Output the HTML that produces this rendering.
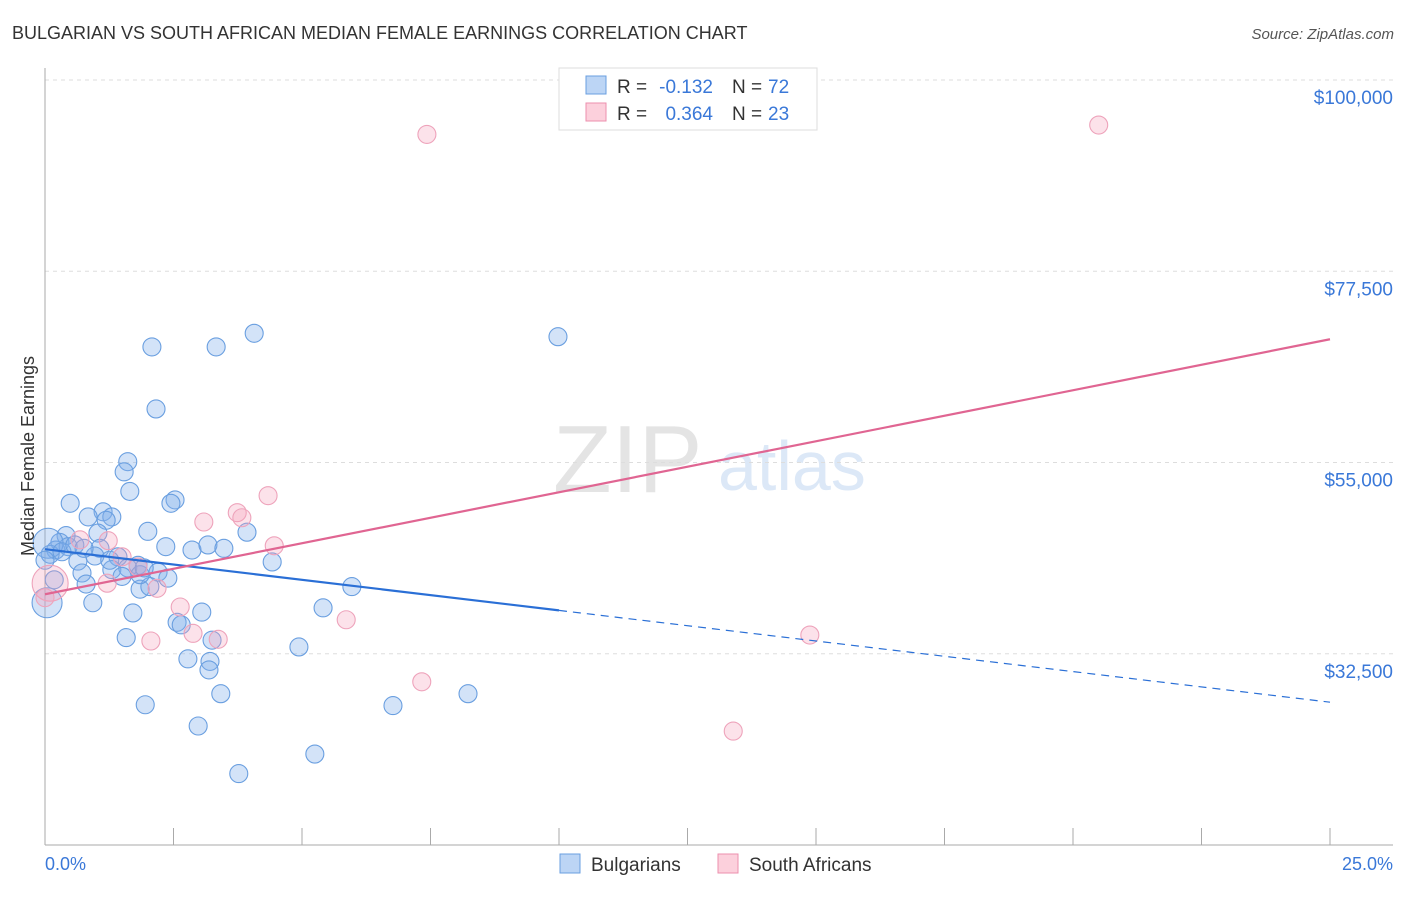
<!DOCTYPE html>
<html><head><meta charset="utf-8"><style>
body{margin:0;background:#fff;font-family:"Liberation Sans",sans-serif}
svg text{font-family:"Liberation Sans",sans-serif}
</style></head><body>
<svg id="c" width="1406" height="892">
<text x="12" y="39" font-size="18" fill="#333">BULGARIAN VS SOUTH AFRICAN MEDIAN FEMALE EARNINGS CORRELATION CHART</text>
<text x="1394" y="39" font-size="15" fill="#555" font-style="italic" text-anchor="end">Source: ZipAtlas.com</text>
<text x="553" y="492" font-size="96" fill="#e4e4e4" font-family="Liberation Serif">ZIP</text>
<text x="718" y="490" font-size="70" fill="#dce8f7">atlas</text>
<g id="grid"></g><g id="axes"></g><g id="marks"></g>
<text transform="translate(34,456) rotate(-90)" font-size="18" fill="#333" text-anchor="middle">Median Female Earnings</text>
<text x="45" y="870" font-size="18" fill="#3a78d8">0.0%</text>
<text x="1393" y="870" font-size="18" fill="#3a78d8" text-anchor="end">25.0%</text>
<g>
<rect x="559" y="68" width="258" height="62" fill="#fff" stroke="#ddd"/>
<rect x="586" y="76" width="20" height="18" fill="#bcd5f5" stroke="#6a9fe0"/>
<rect x="586" y="103" width="20" height="18" fill="#fcd0dc" stroke="#ec8fae"/>
<text x="617" y="93" font-size="19" fill="#333">R =</text>
<text x="713" y="93" font-size="19" fill="#3a78d8" text-anchor="end">-0.132</text>
<text x="732" y="93" font-size="19" fill="#333">N =</text>
<text x="768" y="93" font-size="19" fill="#3a78d8">72</text>
<text x="617" y="120" font-size="19" fill="#333">R =</text>
<text x="713" y="120" font-size="19" fill="#3a78d8" text-anchor="end">0.364</text>
<text x="732" y="120" font-size="19" fill="#333">N =</text>
<text x="768" y="120" font-size="19" fill="#3a78d8">23</text>
</g>
<g>
<rect x="560" y="854" width="20" height="19" fill="#bcd5f5" stroke="#6a9fe0"/>
<text x="591" y="871" font-size="19" fill="#333">Bulgarians</text>
<rect x="718" y="854" width="20" height="19" fill="#fcd0dc" stroke="#ec8fae"/>
<text x="749" y="871" font-size="19" fill="#333">South Africans</text>
</g>
</svg>
<script>
const yTicks=[100000,77500,55000,32500];
const yTickLabels=["$100,000","$77,500","$55,000","$32,500"];
const xTicks=[0,2.5,5,7.5,10,12.5,15,17.5,20,22.5,25];
const blueX=[2.08,3.33,4.07,2.16,9.98,1.61,1.54,1.65,0.49,2.53,2.45,1.13,0.84,1.30,1.19,2.00,3.93,0.41,1.03,0.29,0.21,0.45,1.07,2.35,2.86,3.17,3.48,0.10,0.97,1.42,0.64,4.42,1.81,1.30,1.61,2.20,0.72,1.50,0.80,2.39,1.85,2.04,5.97,0.93,1.71,3.05,5.41,2.57,2.65,1.58,3.25,4.94,2.78,3.21,3.19,3.42,8.23,1.95,6.77,2.98,5.25,3.77,0.04,0.06,0.0,0.18,1.26,1.85,0.33,0.58,1.93,0.76];
const blueY=[68.6,68.6,70.2,61.3,69.8,55.1,53.9,51.6,50.2,50.6,50.2,49.2,48.6,48.6,48.2,46.9,46.8,46.4,46.7,45.6,44.7,45.1,44.9,45.1,44.7,45.3,44.9,44.2,44.0,43.9,43.4,43.3,42.9,42.4,42.6,42.1,42.0,41.6,40.7,41.4,40.1,40.4,40.4,38.5,37.3,37.4,37.9,36.2,35.9,34.4,34.1,33.3,31.9,31.6,30.6,27.8,27.8,26.5,26.4,24.0,20.7,18.4,38.5,45.5,43.5,41.2,43.5,41.8,44.5,45.3,42.6,44.9];
const blueBig=[62,63];
const pinkX=[7.43,20.5,4.34,3.74,3.83,3.09,4.46,1.23,0.68,1.50,1.81,1.21,2.18,2.63,2.88,3.37,2.06,5.86,14.88,7.33,13.39,0.1,0.0];
const pinkY=[93.6,94.7,51.1,49.1,48.5,48.0,45.2,45.8,45.9,43.9,42.7,40.8,40.2,38.0,34.9,34.2,34.0,36.5,34.7,29.2,23.4,40.8,39.1];
const pinkBig=[21];
const blueTrend=[44.8,26.8], blueSolidEnd=10;
const pinkTrend=[39.5,69.5];
const X=p=>45+p*51.4, Y=k=>80+(100-k)*8.5;
const NS="http://www.w3.org/2000/svg";
function mk(t,a,parent){const e=document.createElementNS(NS,t);for(const k in a)e.setAttribute(k,a[k]);document.getElementById(parent).appendChild(e);return e;}
yTicks.forEach((v,i)=>{
 const g=mk('line',{x1:45,x2:1393,y1:Y(v/1000),y2:Y(v/1000),stroke:'#ddd','stroke-dasharray':'4,4'},'grid');
 
 
 const t=mk('text',{x:1393,y:Y(v/1000)+24,'font-size':19,fill:'#3a78d8','text-anchor':'end'},'grid');
 t.textContent=yTickLabels[i];
 
 
});
let a=mk('line',{x1:45,x2:45,y1:68,y2:845,stroke:'#aaa'},'axes');


a=mk('line',{x1:45,x2:1393,y1:845,y2:845,stroke:'#aaa'},'axes');


xTicks.forEach(p=>{const l=mk('line',{x1:X(p),x2:X(p),y1:828,y2:845,stroke:'#aaa'},'axes');
 
 });
blueX.forEach((x,i)=>{const c=mk('circle',{cx:X(x),cy:Y(blueY[i]),r:blueBig.includes(i)?15:9,fill:'rgba(130,175,235,0.35)',stroke:'#6a9fe0','stroke-width':1.1},'marks');
 
 });
pinkX.forEach((x,i)=>{const c=mk('circle',{cx:X(x),cy:Y(pinkY[i]),r:pinkBig.includes(i)?18:9,fill:'rgba(245,160,185,0.3)',stroke:'#eea3bb','stroke-width':1.1},'marks');
 
 });
const bAt=p=>blueTrend[0]+(blueTrend[1]-blueTrend[0])*p/25;
let l=mk('line',{x1:X(0),y1:Y(bAt(0)),x2:X(blueSolidEnd),y2:Y(bAt(blueSolidEnd)),stroke:'#2a6fd6','stroke-width':2.2},'marks');


l=mk('line',{x1:X(blueSolidEnd),y1:Y(bAt(blueSolidEnd)),x2:X(25),y2:Y(bAt(25)),stroke:'#2a6fd6','stroke-width':1.2,'stroke-dasharray':'8,6'},'marks');


l=mk('line',{x1:X(0),y1:Y(pinkTrend[0]),x2:X(25),y2:Y(pinkTrend[1]),stroke:'#e06592','stroke-width':2.2},'marks');


</script>
</body></html>
